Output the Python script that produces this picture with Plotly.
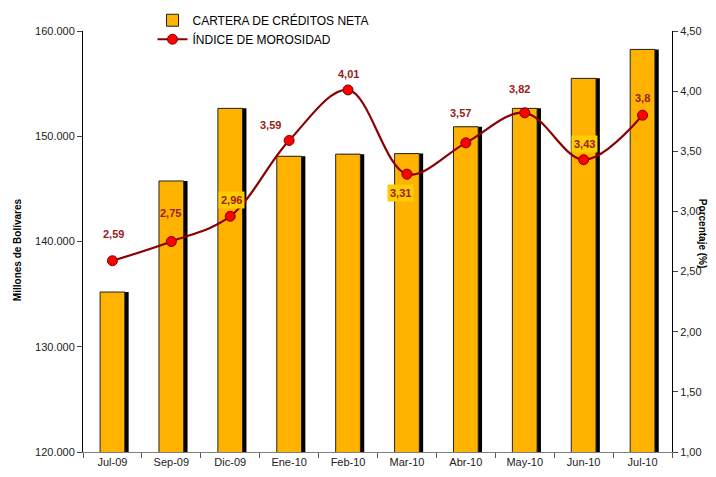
import plotly.graph_objects as go

categories = ["Jul-09", "Sep-09", "Dic-09", "Ene-10", "Feb-10", "Mar-10",
              "Abr-10", "May-10", "Jun-10", "Jul-10"]
cartera = [135200, 145750, 152650, 148100, 148300, 148350, 150900, 152650, 155500, 158250]
morosidad = [2.59, 2.75, 2.96, 3.59, 4.01, 3.31, 3.57, 3.82, 3.43, 3.8]

label_style = {
    "Jul-09": (1, 27, None), "Sep-09": (-1, 29, None), "Dic-09": (1, 16, "#FFCC00"),
    "Ene-10": (-19, 15, None), "Feb-10": (0, 16, None), "Mar-10": (-6, -19, "#FFCC00"),
    "Abr-10": (-5, 30, None), "May-10": (-5, 24, None), "Jun-10": (1, 16, "#FFCC00"),
    "Jul-10": (0, 17, None),
}

FONT = "Liberation Sans, Arial, sans-serif"
W = 0.42

fig = go.Figure()
fig.add_trace(go.Bar(
    x=categories, y=cartera, width=W, offset=-W / 2 + 0.065,
    marker=dict(color="#000000", line=dict(width=0)), showlegend=False, hoverinfo="skip"))
fig.add_trace(go.Bar(
    x=categories, y=cartera, width=W, offset=-W / 2, name="CARTERA DE CRÉDITOS NETA",
    marker=dict(color="#FFB300", line=dict(color="#222222", width=1))))
fig.add_trace(go.Scatter(
    x=categories, y=morosidad, yaxis="y2", name="ÍNDICE DE MOROSIDAD",
    mode="lines+markers", line=dict(color="#8B0000", width=2.2, shape="spline", smoothing=1),
    marker=dict(color="#FF0000", size=10, line=dict(color="#7A0000", width=1))))

annotations = []
for c, v in zip(categories, morosidad):
    dx, dy, bg = label_style[c]
    annotations.append(dict(
        x=c, y=v, xref="x", yref="y2", text=f"{v:g}".replace(".", ","), showarrow=False,
        xshift=dx, yshift=dy, font=dict(family=FONT, size=11, color="#9A2020", weight="bold"),
        bgcolor=bg if bg else "rgba(0,0,0,0)", borderpad=2))
annotations.append(dict(
    x=-0.11, y=0.48, xref="paper", yref="paper", text="<b>Millones de Bolívares</b>",
    xanchor="center", yanchor="middle",
    textangle=-90, showarrow=False, font=dict(family=FONT, size=10, color="#000000")))
annotations.append(dict(
    x=1.053, y=0.52, xref="paper", yref="paper", text="<b>Porcentaje (%)</b>",
    xanchor="center", yanchor="middle",
    textangle=90, showarrow=False, font=dict(family=FONT, size=10, color="#000000")))

fig.update_layout(
    width=708, height=469, margin=dict(l=75, r=44, t=23, b=25, autoexpand=False),
    paper_bgcolor="white", plot_bgcolor="white", barmode="overlay",
    separators=",.", font=dict(family=FONT, size=11, color="#222222"),
    legend=dict(x=0.118, y=1.06, xanchor="left", yanchor="top", bgcolor="rgba(0,0,0,0)",
                font=dict(family=FONT, size=12, color="#000000")),
    xaxis=dict(type="category", showline=True, linecolor="#808080", linewidth=1,
               ticks="outside", tickson="boundaries", ticklen=5, tickcolor="#555555",
               showgrid=False, range=[-0.5, 9.5]),
    yaxis=dict(range=[120000, 160000], dtick=10000, tickformat=",d", showline=True,
               linecolor="#000000", ticks="outside", ticklen=5, showgrid=False, zeroline=False),
    yaxis2=dict(range=[1, 4.5], dtick=0.5, tickformat=".2f", overlaying="y", side="right",
                showline=True, linecolor="#000000", ticks="outside", ticklen=5,
                showgrid=False, zeroline=False),
    annotations=annotations,
)
fig.write_html("out.html")
